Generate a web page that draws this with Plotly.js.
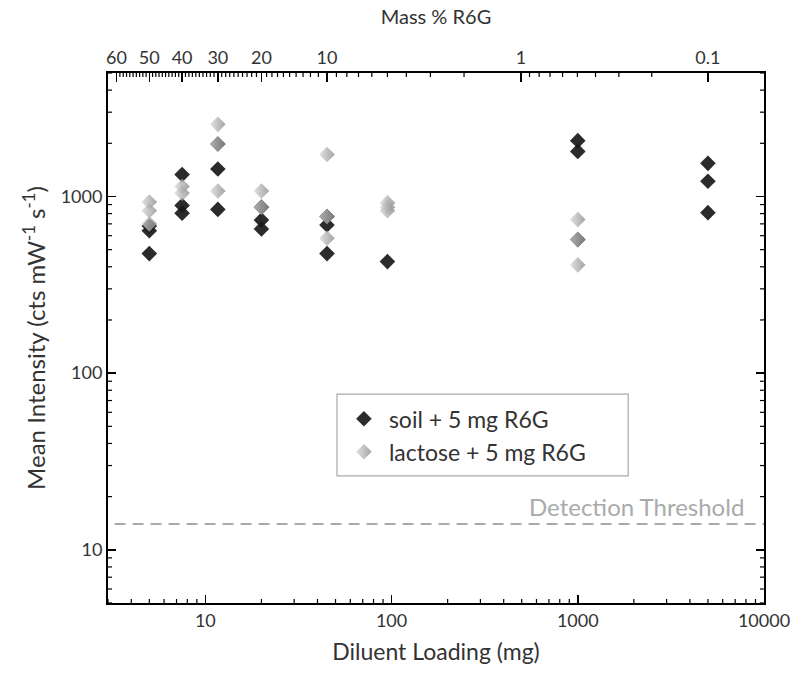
<!DOCTYPE html>
<html>
<head>
<meta charset="utf-8">
<script src="https://cdn.plot.ly/plotly-3.0.1.min.js"></script>
<style>html,body{margin:0;padding:0;background:#fff;}#chart{width:800px;height:685px;}</style>
</head>
<body>
<div id="chart"></div>
<script>
// Diluent loading (mg) and mean intensity (cts mW^-1 s^-1)
const soilLoading = [5, 5, 5, 7.5, 7.5, 7.5, 11.67, 11.67, 11.67, 20, 20, 20, 45, 45, 45, 95, 1000, 1000, 1000, 5000, 5000, 5000];
const soilIntensity = [680, 640, 475, 1330, 890, 805, 1980, 1430, 845, 870, 735, 655, 770, 690, 475, 428, 2070, 1800, 570, 1540, 1220, 810];
const lactoseLoading = [5, 5, 5, 7.5, 7.5, 11.67, 11.67, 11.67, 20, 20, 45, 45, 45, 95, 95, 95, 1000, 1000, 1000];
const lactoseIntensity = [930, 830, 700, 1140, 1045, 2560, 1980, 1075, 1075, 870, 1730, 770, 580, 920, 870, 830, 740, 570, 410];
const seriesNames = ["soil + 5 mg R6G", "lactose + 5 mg R6G"];
const detectionThreshold = 14;
// bottom / left ticks
const xTickVals = [10, 100, 1000, 10000];
const yTickVals = [10, 100, 1000];
// top axis: mass % R6G = 5/(5+D)*100  ->  D = 500/p - 5
const massPctLabels = [60, 50, 40, 30, 20, 10, 1, 0.1];
const massPctMinor = [59,58,57,56,55,54,53,52,51,49,48,47,46,45,44,43,42,41,39,38,37,36,35,34,33,32,31,29,28,27,26,25,24,23,22,21,19,18,17,16,15,14,13,12,11,9,8,7,6,5,4,3,2,0.9,0.8,0.7,0.6,0.5,0.4,0.3,0.2];

const pctToLoading = p => 500 / p - 5;
const logMinors = [];
for (let d = 1; d <= 4; d++) for (let m = 2; m <= 9; m++) logMinors.push(m * Math.pow(10, d - 1));
const xMinor = logMinors.filter(v => v >= 3 && v <= 10000);
const yMinor = logMinors.filter(v => v >= 5 && v <= 5000);

const FONT = "Lato, 'Open Sans', sans-serif";
const xr = [Math.log10(3), 4];
const yr = [Math.log10(5), Math.log10(5000)];

const traces = [
  {x: soilLoading, y: soilIntensity, type: 'scatter', mode: 'markers', name: seriesNames[0],
   marker: {symbol: 'diamond', size: 12, color: 'rgba(25,25,25,0.92)', line: {width: 0}}},
  {x: lactoseLoading, y: lactoseIntensity, type: 'scatter', mode: 'markers', name: seriesNames[1],
   marker: {symbol: 'diamond', size: 12, color: 'rgba(215,215,215,0.75)', line: {width: 0},
            gradient: {type: 'horizontal', color: 'rgba(140,140,140,0.8)'}}},
  {x: [10], y: [10], xaxis: 'x2', yaxis: 'y', type: 'scatter', mode: 'markers',
   marker: {opacity: 0, size: 1}, showlegend: false, hoverinfo: 'skip'}
];

const axisBase = {type: 'log', showgrid: false, zeroline: false, ticks: 'inside', tickcolor: '#000', tickwidth: 1.5,
  linecolor: '#000', linewidth: 2, tickfont: {family: FONT, size: 18, color: '#333'}};

// minor tick marks drawn as short pixel-sized lines anchored to the axes
const tickLine = {color: '#000', width: 1.2};
const minorShapes = [];
xMinor.forEach(v => minorShapes.push({type: 'line', xref: 'x', yref: 'paper', ysizemode: 'pixel', yanchor: 0,
  x0: v, x1: v, y0: 0, y1: 4, line: tickLine}));
massPctMinor.map(pctToLoading).forEach(v => minorShapes.push({type: 'line', xref: 'x', yref: 'paper', ysizemode: 'pixel', yanchor: 1,
  x0: v, x1: v, y0: 0, y1: -4, line: tickLine}));
yMinor.forEach(v => {
  minorShapes.push({type: 'line', yref: 'y', xref: 'paper', xsizemode: 'pixel', xanchor: 0, y0: v, y1: v, x0: 0, x1: 4, line: tickLine});
  minorShapes.push({type: 'line', yref: 'y', xref: 'paper', xsizemode: 'pixel', xanchor: 1, y0: v, y1: v, x0: 0, x1: -4, line: tickLine});
});

const layout = {
  width: 800, height: 685,
  margin: {l: 108, r: 36, t: 73, b: 82},
  paper_bgcolor: '#fff', plot_bgcolor: '#fff',
  font: {family: FONT, color: '#333'},
  showlegend: true,
  legend: {x: 0.352, y: 0.388, xanchor: 'left', yanchor: 'top', borderwidth: 0,
    bgcolor: 'rgba(255,255,255,0)', font: {family: FONT, size: 23, color: '#333'}, tracegroupgap: 6, traceorder: 'normal',
    itemwidth: 40},
  xaxis: Object.assign({}, axisBase, {range: xr, autorange: false, tickmode: 'array', tickvals: xTickVals,
    ticktext: xTickVals.map(String), ticklen: 8, showline: true, mirror: false,
    title: {text: 'Diluent Loading (mg)', font: {family: FONT, size: 23, color: '#333'}, standoff: 14}}),
  xaxis2: Object.assign({}, axisBase, {range: xr, autorange: false, overlaying: 'x', side: 'top',
    tickmode: 'array', tickvals: massPctLabels.map(pctToLoading), ticktext: massPctLabels.map(String),
    ticklen: 9, showline: true,
    title: {text: 'Mass % R6G', font: {family: FONT, size: 20, color: '#333'}, standoff: 16}}),
  yaxis: Object.assign({}, axisBase, {range: yr, autorange: false, tickmode: 'array', tickvals: yTickVals,
    ticktext: yTickVals.map(String), ticklen: 8, showline: true, mirror: 'ticks',
    title: {text: 'Mean Intensity (cts mW<sup>-1</sup> s<sup>-1</sup>)', font: {family: FONT, size: 24, color: '#333'}, standoff: 8}}),
  shapes: [
    {type: 'line', xref: 'paper', yref: 'y', x0: 0.01, x1: 1, y0: detectionThreshold, y1: detectionThreshold,
     line: {color: '#aaa', width: 2, dash: '11px,7px'}},
    {type: 'rect', xref: 'paper', yref: 'paper', x0: 0.349, x1: 0.793, y0: 0.240, y1: 0.394,
     line: {color: '#aaa', width: 1.2}, fillcolor: '#fff', layer: 'below'}
  ].concat(minorShapes),
  annotations: [
    {text: 'Detection Threshold', xref: 'paper', yref: 'y', x: 0.972, y: Math.log10(detectionThreshold),
     xanchor: 'right', yanchor: 'bottom', yshift: 1, showarrow: false,
     font: {family: FONT, size: 24, color: '#aaa'}}
  ]
};

Plotly.newPlot('chart', traces, layout, {displayModeBar: false, staticPlot: true});
</script>
</body>
</html>
